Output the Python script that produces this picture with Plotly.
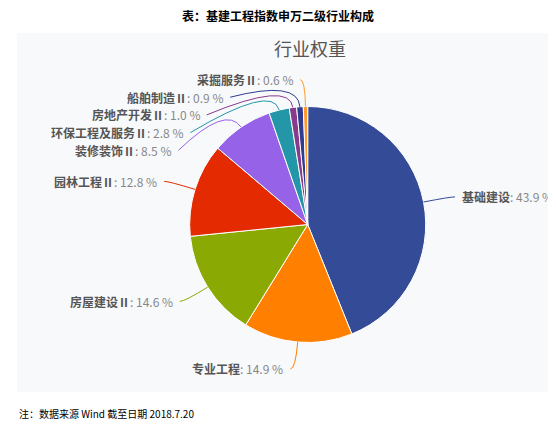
import math
import plotly.graph_objects as go

# 行业权重 (%), clockwise from 12 o'clock
industries = ["基础建设", "专业工程", "房屋建设Ⅱ", "园林工程Ⅱ", "装修装饰Ⅱ",
              "环保工程及服务Ⅱ", "房地产开发Ⅱ", "船舶制造Ⅱ", "采掘服务Ⅱ"]
weights = [43.9, 14.9, 14.6, 12.8, 8.5, 2.8, 1.0, 0.9, 0.6]

colors = ["#344b97", "#ff7f00", "#8aa903", "#e32a00", "#9662e8",
          "#2396a8", "#883b8b", "#2f3c8f", "#ff9a2e"]

title = "表：基建工程指数申万二级行业构成"
chart_title = "行业权重"
note = "注：数据来源 Wind 截至日期 2018.7.20"

W, H = 556, 434
OFF = 8                 # page body margin, the figure starts here
FONT = "Noto Sans CJK SC"

# pie geometry in page pixels
CX, CY, R = 307.7, 224.5, 118
LEN1, LEN2 = 27, 5      # label line: radial part, horizontal part
LINE_H = 17.7           # min vertical spacing of labels
R_PUSH = 149            # radius used for labels moved to avoid overlap
GAP = 5                 # line end -> text


def layout_labels():
    total = sum(weights)
    cum = 0
    items = []
    for name, v, c in zip(industries, weights, colors):
        a = (cum + v / 2) / total * 2 * math.pi
        cum += v
        dx, dy = math.sin(a), -math.cos(a)
        side = -1 if dx < 0 else 1
        p1 = (CX + (R + LEN1) * dx, CY + (R + LEN1) * dy)
        items.append(dict(name=name, v=v, c=c, side=side,
                          p0=(CX + R * dx, CY + R * dy), p1=p1,
                          x=p1[0] + side * LEN2, y=p1[1], pushed=False))
    for side in (-1, 1):
        grp = sorted([it for it in items if it["side"] == side], key=lambda it: it["y"])
        for prev, cur in zip(grp, grp[1:]):
            if cur["y"] < prev["y"] + LINE_H:
                cur["y"] = prev["y"] + LINE_H
                cur["pushed"] = True
        for it in grp:
            if it["pushed"]:
                it["x"] = CX + side * math.sqrt(max(R_PUSH ** 2 - (it["y"] - CY) ** 2, 0))
    return items


fw, fh = W - OFF, H - OFF

fig = go.Figure()

fig.add_trace(go.Pie(
    labels=industries, values=weights, sort=False, direction="clockwise",
    rotation=0, textinfo="none", hoverinfo="label+percent",
    marker=dict(colors=colors, line=dict(color="white", width=1)),
    domain=dict(x=[(CX - R - OFF) / fw, (CX + R - OFF) / fw],
                y=[1 - (CY + R - OFF) / fh, 1 - (CY - R - OFF) / fh]),
    showlegend=False,
))

shapes = [dict(type="rect", xref="x", yref="y", x0=17, x1=556, y0=33, y1=392,
               fillcolor="#f8f9fb", line=dict(width=0), layer="below")]
annotations = []
for it in layout_labels():
    (x0, y0), (x1, y1) = it["p0"], it["p1"]
    shapes.append(dict(type="path", xref="x", yref="y",
                       path=f"M {x0:.1f},{y0:.1f} Q {x1:.1f},{y1:.1f} {it['x']:.1f},{it['y']:.1f}",
                       line=dict(color=it["c"], width=1)))
    annotations.append(dict(
        xref="x", yref="y", x=it["x"] + it["side"] * GAP, y=it["y"],
        xanchor="right" if it["side"] < 0 else "left", yanchor="middle",
        text=f"<b>{it['name']}</b><span style='color:#888888'>: {it['v']:.1f} %</span>",
        showarrow=False, font=dict(family=FONT, size=12, color="#555555")))

annotations += [
    dict(xref="x", yref="y", x=W / 2, y=15, text=f"<b>{title}</b>", showarrow=False,
         font=dict(family=FONT, size=12, color="#000000")),
    dict(xref="x", yref="y", x=310, y=48, text=chart_title, showarrow=False,
         font=dict(family=FONT, size=18, color="#555555")),
    dict(xref="x", yref="y", x=17, y=413, xanchor="left", text=note, showarrow=False,
         font=dict(family=FONT, size=10, color="#000000")),
]

fig.update_layout(
    width=fw, height=fh, margin=dict(l=0, r=0, t=0, b=0),
    paper_bgcolor="white", plot_bgcolor="rgba(0,0,0,0)",
    xaxis=dict(range=[OFF, W], visible=False, fixedrange=True),
    yaxis=dict(range=[H, OFF], visible=False, fixedrange=True),
    shapes=shapes, annotations=annotations,
)

fig.write_html("out.html")
